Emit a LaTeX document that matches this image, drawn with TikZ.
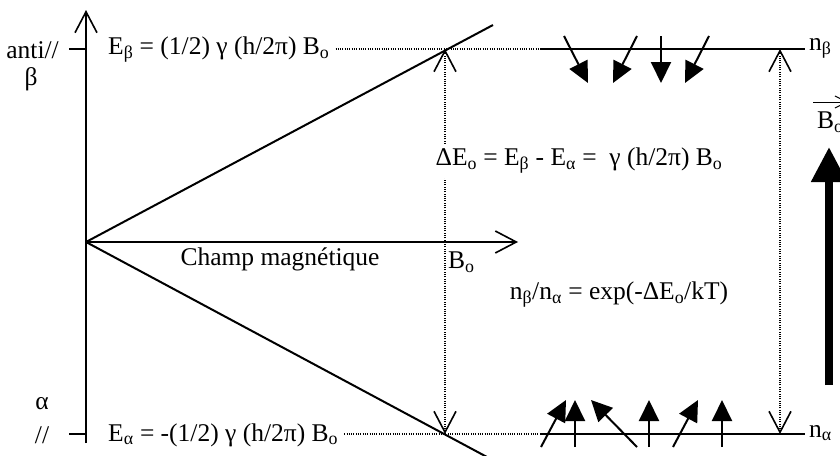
\documentclass[tikz,border=0pt]{standalone}
\usepackage{fontspec}
\setmainfont{Liberation Serif}
\usetikzlibrary{arrows.meta}
\tikzset{
  mybarb/.tip={Straight Barb[length=21pt,width=22pt,line width=1.6pt]},
  smallbarb/.tip={Straight Barb[length=12pt,width=12pt,line width=1pt]},
}
\begin{document}
\begin{tikzpicture}[x=1pt,y=-1pt,
  lbl/.style={font=\fontsize{25.5}{30}\selectfont, inner sep=0pt},
  solidline/.style={line width=2pt},
  dotline/.style={line width=1.1pt, dash pattern=on 1pt off 1.3pt},
  spin/.style={line width=2pt, -{Triangle[length=21pt,width=20pt]}},
]
\useasboundingbox (0,0) rectangle (840,455);
\fill[white] (0,0) rectangle (840,455);
% axes
\coordinate (O) at (86,242);
\coordinate (ytop) at (86,10);
\coordinate (ybot) at (86,443);
\coordinate (xend) at (518,242);
\draw[solidline,-{mybarb}] (ybot) -- (ytop);
\draw[solidline,-{mybarb}] (O) -- (xend);
% ticks
\coordinate (t1a) at (69,49); \coordinate (t1b) at (86,49);
\coordinate (t2a) at (69,434); \coordinate (t2b) at (86,434);
\draw[solidline] (t1a) -- (t1b);
\draw[solidline] (t2a) -- (t2b);
% level lines
\coordinate (ub) at (493,25);
\coordinate (lb) at (487,457);
\draw[solidline] (O) -- (ub);
\draw[solidline] (O) -- (lb);
% labels left
\node[lbl, anchor=east] (anti) at (59,50) {anti//};
\node[lbl] (beta) at (31,79) {β};
\node[lbl] (alpha) at (42,404) {α};
\node[lbl] (par) at (42,435) {//};
\node[lbl, anchor=west] (Eb) at (108,50) {E\textsubscript{β} = (1/2) γ (h/2π) B\textsubscript{o}};
\node[lbl, anchor=west] (Ea) at (108,435) {E\textsubscript{α} = -(1/2) γ (h/2π) B\textsubscript{o}};
% dotted horizontals and population lines
\coordinate (d1) at (540,49);
\coordinate (d2) at (540,434);
\coordinate (s1) at (805,49);
\coordinate (s2) at (805,434);
\coordinate (Ebe) at ([xshift=6pt]Eb.east|-d1);
\coordinate (Eae) at ([xshift=6pt]Ea.east|-d2);
\draw[dotline] (Ebe) -- (d1);
\draw[dotline] (Eae) -- (d2);
\draw[solidline] (d1) -- (s1);
\draw[solidline] (d2) -- (s2);
\node[lbl, anchor=west] (nb) at (809,48) {n\textsubscript{β}};
\node[lbl, anchor=west] (na) at (809,433) {n\textsubscript{α}};
% vertical transitions
\coordinate (p1t) at (445,49); \coordinate (p1b) at (445,434);
\coordinate (p2t) at (780,49); \coordinate (p2b) at (780,434);
\draw[dotline,{mybarb}-{mybarb}] (p1b) -- (p1t);
\draw[dotline,{mybarb}-{mybarb}] (p2b) -- (p2t);
% delta E label (white background)
\node[lbl, fill=white, inner sep=4pt] (dE) at (579,161) {ΔE\textsubscript{o} = E\textsubscript{β} - E\textsubscript{α} =\ \ γ (h/2π) B\textsubscript{o}};
% axis labels
\node[lbl] (champ) at (280,259) {Champ magnétique};
\node[lbl, anchor=west] (Bo) at (448,262) {B\textsubscript{o}};
\node[lbl] (ratio) at (619,295) {n\textsubscript{β}/n\textsubscript{α} = exp(-ΔE\textsubscript{o}/kT)};
% spins beta (down)
\coordinate (a1s) at (564,36); \coordinate (a1e) at (588,83);
\coordinate (a2s) at (637,36); \coordinate (a2e) at (613,83);
\coordinate (a3s) at (661,36); \coordinate (a3e) at (661,83);
\coordinate (a4s) at (709,36); \coordinate (a4e) at (685,83);
\draw[spin] (a1s) -- (a1e);
\draw[spin] (a2s) -- (a2e);
\draw[spin] (a3s) -- (a3e);
\draw[spin] (a4s) -- (a4e);
% spins alpha (up)
\coordinate (b1s) at (541,447); \coordinate (b1e) at (566,400);
\coordinate (b2s) at (575,447); \coordinate (b2e) at (575,400);
\coordinate (b3s) at (637,447); \coordinate (b3e) at (591,400);
\coordinate (b4s) at (649,447); \coordinate (b4e) at (649,400);
\coordinate (b5s) at (673,447); \coordinate (b5e) at (698,400);
\coordinate (b6s) at (722,447); \coordinate (b6e) at (722,400);
\draw[spin] (b1s) -- (b1e);
\draw[spin] (b2s) -- (b2e);
\draw[spin] (b3s) -- (b3e);
\draw[spin] (b4s) -- (b4e);
\draw[spin] (b5s) -- (b5e);
\draw[spin] (b6s) -- (b6e);
% field arrow
\coordinate (F0) at (829,385); \coordinate (F1) at (829,147);
\draw[line width=8pt,-{Triangle[length=35pt,width=34pt]}] (F0) -- (F1);
\node[lbl, anchor=west] (Bv) at (817,122) {B\textsubscript{o}};
\coordinate (bva) at (813,102); \coordinate (bvb) at (848,102);
\draw[line width=1pt,-{smallbarb}] (bva) -- (bvb);
\end{tikzpicture}
\end{document}
